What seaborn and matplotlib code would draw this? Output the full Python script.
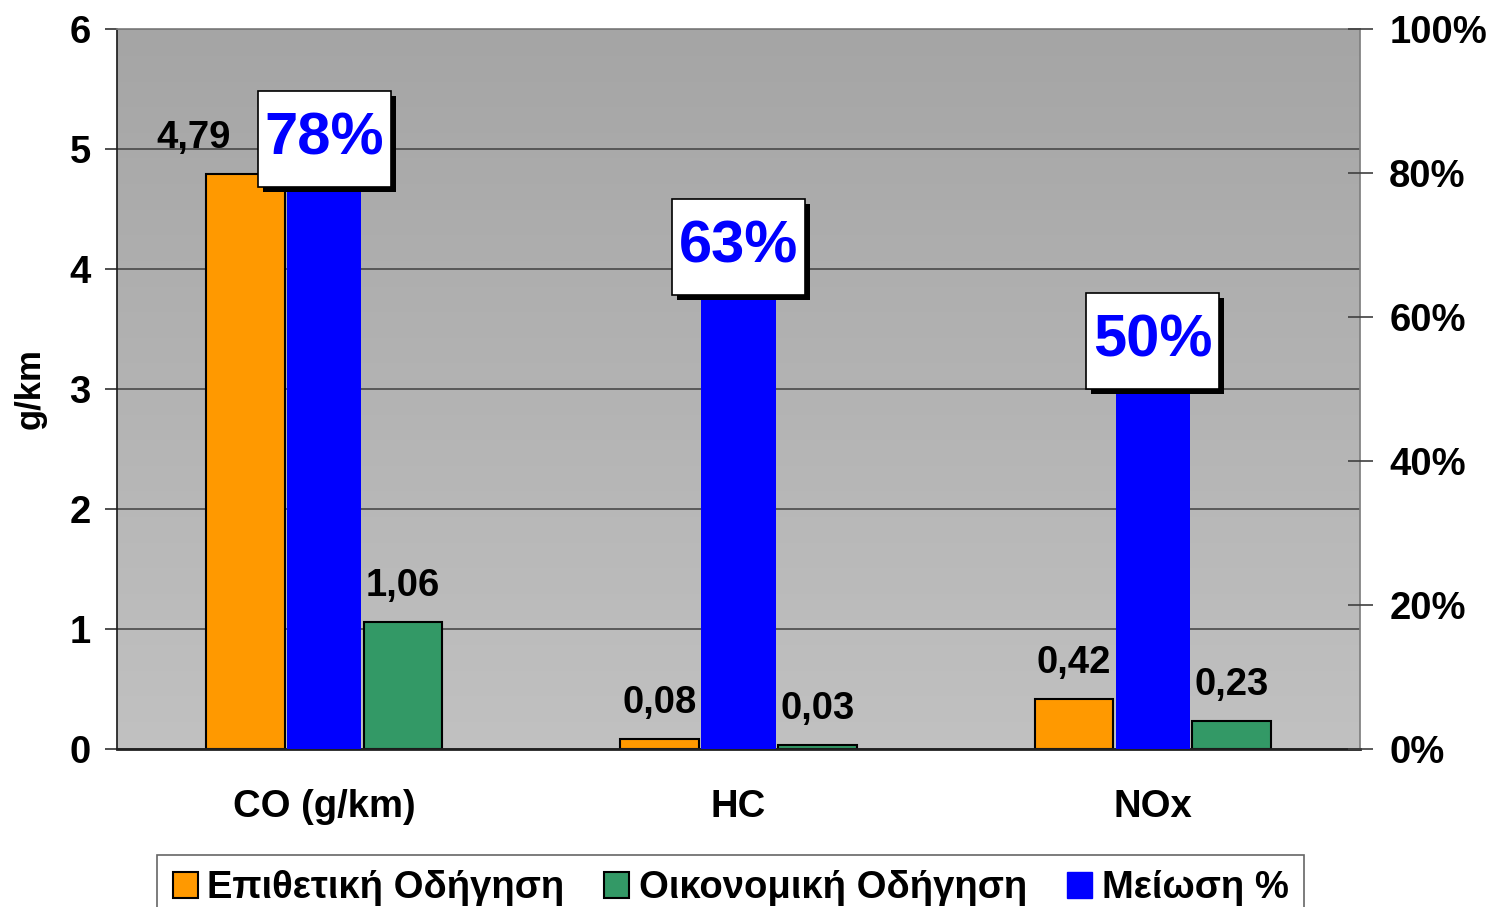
import numpy as np
import pandas as pd
import matplotlib
matplotlib.use("Agg")
import matplotlib.pyplot as plt
import matplotlib.patches as mpatches
import matplotlib.transforms as mtransforms
import seaborn as sns

# ==================== DATA ====================
categories = ["CO (g/km)", "HC", "NOx"]
aggressive = [4.79, 0.08, 0.42]      # Επιθετική Οδήγηση (g/km)
economic = [1.06, 0.03, 0.23]        # Οικονομική Οδήγηση (g/km)
reduction = [78, 63, 50]             # Μείωση %
series_names = ["Επιθετική Οδήγηση", "Οικονομική Οδήγηση", "Μείωση %"]
left_ticks = [0, 1, 2, 3, 4, 5, 6]
right_ticks = [0, 20, 40, 60, 80, 100]

ORANGE = "#FF9900"
GREEN = "#339966"
BLUE = "#0000FF"
FS = 27.5

# long format table for seaborn (middle level is an empty slot for the blue bar)
df = pd.DataFrame({
    "cat": categories * 3,
    "series": [series_names[0]] * 3 + ["_gap"] * 3 + [series_names[1]] * 3,
    "value": aggressive + [np.nan] * 3 + economic,
})
df_red = pd.DataFrame({"cat": categories, "value": reduction})

sns.set_theme(style="white")
plt.rcParams["font.family"] = ["Liberation Sans", "DejaVu Sans"]
plt.rcParams["font.weight"] = "bold"
for k in ["text.color", "axes.labelcolor", "xtick.color", "ytick.color"]:
    plt.rcParams[k] = "black"

fig = plt.figure(figsize=(14.91, 9.07), dpi=100)
ax = fig.add_axes([117 / 1491, 1 - 749 / 907, (1360 - 117) / 1491, (749 - 29) / 907])

# gradient background, darker at the top
grad = np.linspace(0, 1, 256).reshape(-1, 1)
ax.imshow(grad, extent=(-0.5, 2.5, 0, 6), aspect="auto", origin="upper",
          cmap=matplotlib.colors.LinearSegmentedColormap.from_list("g", ["#a5a5a5", "#c1c1c1"]),
          zorder=0, interpolation="bilinear")

sns.barplot(data=df, x="cat", y="value", hue="series",
            hue_order=[series_names[0], "_gap", series_names[1]],
            palette={series_names[0]: ORANGE, "_gap": "white", series_names[1]: GREEN},
            width=0.57, errorbar=None, edgecolor="black", linewidth=1.5,
            saturation=1, legend=False, ax=ax, zorder=2)

ax.set_xlim(-0.5, 2.5)
ax.set_ylim(0, 6)
ax.set_yticks(left_ticks)
ax.set_yticklabels([str(t) for t in left_ticks], fontsize=FS, fontweight="bold")
ax.yaxis.grid(True, color="#404040", linewidth=1.1, zorder=1)
ax.set_axisbelow(True)

# category boundaries as major ticks, names as minor ticks
ax.set_xticks([-0.5, 0.5, 1.5, 2.5])
ax.set_xticklabels([])
ax.set_xticks([0, 1, 2], minor=True)
ax.set_xticklabels(categories, minor=True, fontsize=FS, fontweight="bold")
ax.tick_params(axis="x", which="major", direction="out", length=9, color="#555555", width=1.2)
ax.tick_params(axis="x", which="minor", length=0, pad=29)
ax.tick_params(axis="y", direction="out", length=9, width=1.2, color="#303030", pad=10, left=True)
ax.set_xlabel("")
ax.set_ylabel("g/km", fontsize=25, fontweight="bold")
ax.yaxis.set_label_coords(-0.057, 0.5)

for side in ["top", "right"]:
    ax.spines[side].set_color("#808080")
ax.spines["left"].set_color("#202020")
ax.spines["bottom"].set_color("#202020")
ax.spines["bottom"].set_linewidth(2)

# value labels for the g/km bars
offsets = {0: -37}
for i, v in enumerate(aggressive):
    ax.annotate(f"{v:.2f}".replace(".", ","), (i - 0.19, v), xytext=(offsets.get(i, 0), 13),
                textcoords="offset points", ha="center", va="bottom",
                fontsize=FS, fontweight="bold", zorder=5)
for i, v in enumerate(economic):
    ax.annotate(f"{v:.2f}".replace(".", ","), (i + 0.19, v), xytext=(0, 13),
                textcoords="offset points", ha="center", va="bottom",
                fontsize=FS, fontweight="bold", zorder=5)

# reduction on the right axis
ax2 = ax.twinx()
sns.barplot(data=df_red, x="cat", y="value", color=BLUE, saturation=1,
            width=0.18, errorbar=None, linewidth=0, ax=ax2, zorder=2)
ax2.set_xlim(-0.5, 2.5)
ax2.set_ylim(0, 100)
ax2.set_yticks(right_ticks)
ax2.set_yticklabels([f"{t}%" for t in right_ticks], fontsize=FS, fontweight="bold")
ax2.tick_params(axis="y", direction="inout", length=18, width=1.2, color="#404040", pad=12, right=True)
ax2.set_ylabel("")
ax2.set_xlabel("")
for s in ax2.spines.values():
    s.set_visible(False)

# label boxes sitting on the blue bars (sizes in pixels)
box_w, box_h, shadow = 133, 96, 5
for i, p in enumerate(reduction):
    anchor = mtransforms.ScaledTranslation(i, p, ax2.transData)
    ax2.add_patch(mpatches.Rectangle((-box_w / 2 + shadow, -shadow), box_w, box_h,
                                     transform=anchor, facecolor="black", edgecolor="none",
                                     zorder=6, clip_on=False))
    ax2.add_patch(mpatches.Rectangle((-box_w / 2, 0), box_w, box_h, transform=anchor,
                                     facecolor="white", edgecolor="black", lw=1.2,
                                     zorder=7, clip_on=False))
    ax2.annotate(f"{p}%", (i, p), xytext=(0, box_h / 2 * 0.72), textcoords="offset points",
                 ha="center", va="center", fontsize=43, fontweight="bold", color=BLUE, zorder=8)

handles = [mpatches.Patch(facecolor=ORANGE, edgecolor="black", lw=1.5),
           mpatches.Patch(facecolor=GREEN, edgecolor="black", lw=1.5),
           mpatches.Patch(facecolor=BLUE, edgecolor=BLUE)]
leg = fig.legend(handles, series_names, loc="upper center", bbox_to_anchor=(0.49, 1 - 855 / 907),
                 ncol=3, frameon=True, fancybox=False, edgecolor="#404040",
                 handlelength=0.65, handleheight=0.65, handletextpad=0.25, columnspacing=1.05,
                 borderpad=0.4, borderaxespad=0, prop={"weight": "bold", "size": FS})
leg.get_frame().set_linewidth(1.2)

fig.savefig("out.png", dpi=100)
